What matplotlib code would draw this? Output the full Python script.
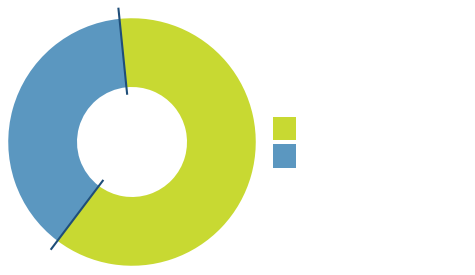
import numpy as np
import matplotlib
matplotlib.use("Agg")
from matplotlib import pyplot as plt

# data
labels = ["Internal", "External"]
counts = [5529, 3403]
colors = ["#c8d932", "#5b97c0"]
edge_color = "#1f4e79"

total = sum(counts)
pcts = [100.0 * c / total for c in counts]
legend_labels = ["%d %s (%.1f%%)" % (c, l, p) for c, l, p in zip(counts, labels, pcts)]

fig = plt.figure(figsize=(4.75, 2.75), dpi=100)
fig.patch.set_facecolor("white")

# square axes centred on the donut
ax = fig.add_axes([(132 - 125) / 475, (275 - 142 - 125) / 275, 250 / 475, 250 / 275])
start = 95.8
wedges, _ = ax.pie(counts, colors=colors, startangle=start, counterclock=False,
                   radius=0.99, wedgeprops=dict(width=0.55, linewidth=0))
ax.set_xlim(-1, 1)
ax.set_ylim(-1, 1)
ax.set_aspect("equal")
ax.axis("off")

# dark separator lines at the slice boundaries
angle = start
for c in counts:
    t = np.deg2rad(angle)
    ax.plot([0.38 * np.cos(t), 1.08 * np.cos(t)], [0.38 * np.sin(t), 1.08 * np.sin(t)],
            color=edge_color, lw=1.5, clip_on=False, solid_capstyle="butt")
    angle -= 360.0 * c / total

fig.legend(wedges, legend_labels, loc="upper left",
           bbox_to_anchor=(273 / 475, 1 - 117 / 275), frameon=False,
           borderpad=0, borderaxespad=0, handlelength=1.65, handleheight=2.2,
           handletextpad=0.6, labelspacing=0.3, fontsize=10, labelcolor="white")

fig.savefig("out.png", dpi=100, facecolor="white")
